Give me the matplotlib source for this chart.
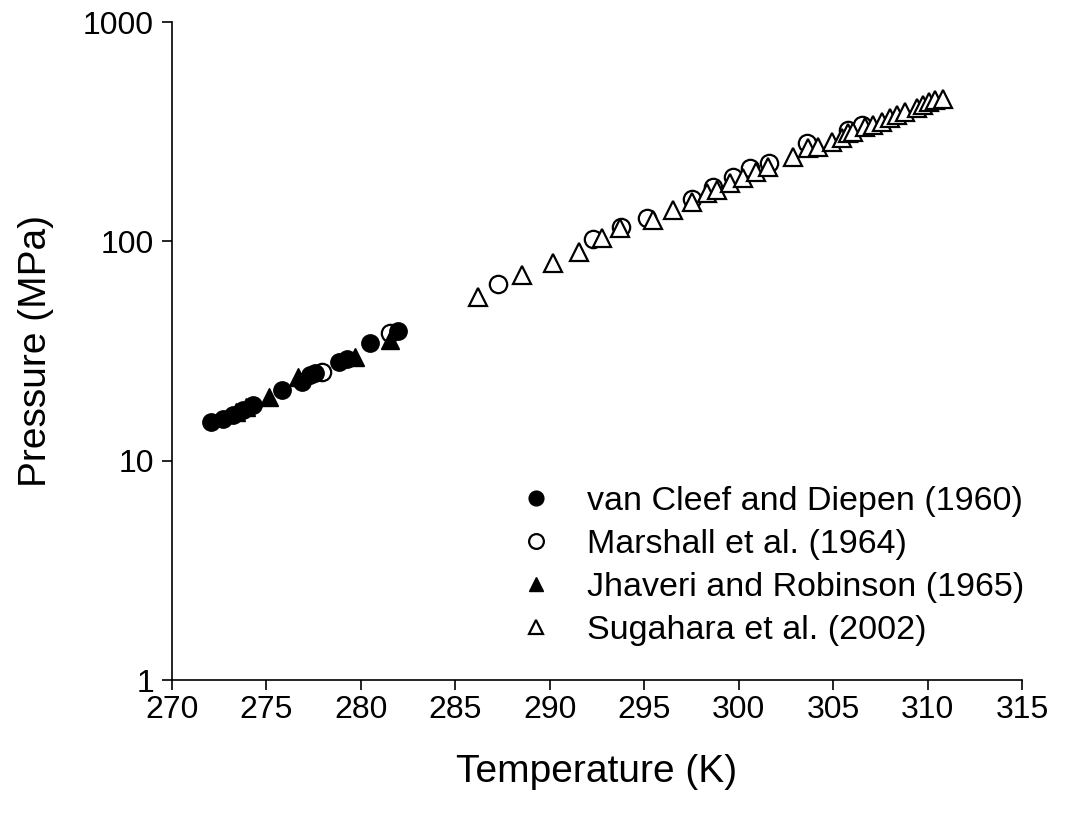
import matplotlib
matplotlib.use("Agg")
import matplotlib.pyplot as plt
from matplotlib.ticker import FixedLocator, NullLocator

plt.rcParams['font.family'] = ['Liberation Sans', 'DejaVu Sans']

# ---- data ----
vc_T = [272.05, 272.72, 273.25, 273.77, 274.30, 275.81, 276.87, 277.31, 277.55,
        278.86, 279.25, 280.48, 281.98]
vc_P = [15.06, 15.44, 16.15, 17.02, 17.94, 21.0, 22.9, 24.6, 25.0,
        28.3, 29.0, 34.3, 39.1]

ma_T = [277.93, 281.54, 287.27, 292.30, 293.75, 295.15, 297.51, 298.66, 299.72,
        300.60, 301.61, 303.60, 305.80, 306.53]
ma_P = [25.4, 38.1, 63.9, 102.5, 116.7, 127.6, 156.7, 177.4, 196.5,
        215.3, 227.0, 280.0, 322.0, 339.0]

jr_T = [273.4, 273.9, 275.15, 276.69, 279.69, 281.54]
jr_P = [16.6, 17.5, 19.45, 24.1, 29.8, 35.5]

su_T = [286.22, 288.51, 290.19, 291.55, 292.75, 293.72, 295.46, 296.54, 297.51,
        298.31, 298.84, 299.54, 300.25, 300.92, 301.53, 302.89, 303.69, 304.22,
        304.92, 305.45, 305.80, 306.05, 306.69, 307.13, 307.57, 308.01, 308.38,
        308.81, 309.42, 309.77, 310.08, 310.39, 310.82]
su_P = [55.6, 70.2, 79.4, 89.1, 103.2, 114.6, 125.0, 139.0, 151.7,
        165.6, 171.5, 184.5, 194.5, 206.5, 219.0, 243.0, 265.6, 270.0,
        284.4, 295.8, 311.0, 316.0, 330.5, 339.0, 351.0, 364.0, 377.0,
        390.0, 404.0, 419.0, 430.0, 439.0, 446.0]

labels = ["van Cleef and Diepen (1960)", "Marshall et al. (1964)",
          "Jhaveri and Robinson (1965)", "Sugahara et al. (2002)"]

x_ticks = [270, 275, 280, 285, 290, 295, 300, 305, 310, 315]
y_ticks = [1, 10, 100, 1000]
y_ticklabels = ["1", "10", "100", "1000"]

# ---- figure ----
fig = plt.figure(figsize=(10.84, 8.17), dpi=100)
ax = fig.add_axes([172/1084, 1 - 680/817, 850/1084, 658/817])

ms = 12.5
mew = 1.6
ax.plot(vc_T, vc_P, 'o', ms=ms, color='black', mec='black', ls='none', label=labels[0], zorder=3)
ax.plot(ma_T, ma_P, 'o', ms=ms, mfc='white', mec='black', mew=mew, ls='none', label=labels[1], zorder=2)
ax.plot(jr_T, jr_P, '^', ms=ms, color='black', mec='black', ls='none', label=labels[2], zorder=3)
ax.plot(su_T, su_P, '^', ms=ms, mfc='white', mec='black', mew=mew, ls='none', label=labels[3], zorder=2)

ax.set_yscale('log')
ax.set_xlim(270, 315)
ax.set_ylim(1, 1000)
ax.set_xticks(x_ticks)
ax.set_xticklabels([str(t) for t in x_ticks])
ax.yaxis.set_major_locator(FixedLocator(y_ticks))
ax.set_yticklabels(y_ticklabels)
ax.yaxis.set_minor_locator(NullLocator())

for s in ['top', 'right']:
    ax.spines[s].set_visible(False)
for s in ['left', 'bottom']:
    ax.spines[s].set_linewidth(1.2)
ax.tick_params(axis='both', direction='out', length=7, width=1.2,
               labelsize=23, colors='black')
ax.tick_params(axis='x', pad=4)
ax.tick_params(axis='y', pad=6)

ax.set_xlabel("Temperature (K)", fontsize=28, labelpad=21)
ax.set_ylabel("Pressure (MPa)", fontsize=28, labelpad=21)

leg = ax.legend(loc='upper left', bbox_to_anchor=(505/1084, 1 - 472/817),
                bbox_transform=fig.transFigure, frameon=False, fontsize=24.5,
                markerscale=0.85, handlelength=1.0, handletextpad=1.0,
                labelspacing=0.36, borderaxespad=0)

fig.savefig("out.png", dpi=100)
